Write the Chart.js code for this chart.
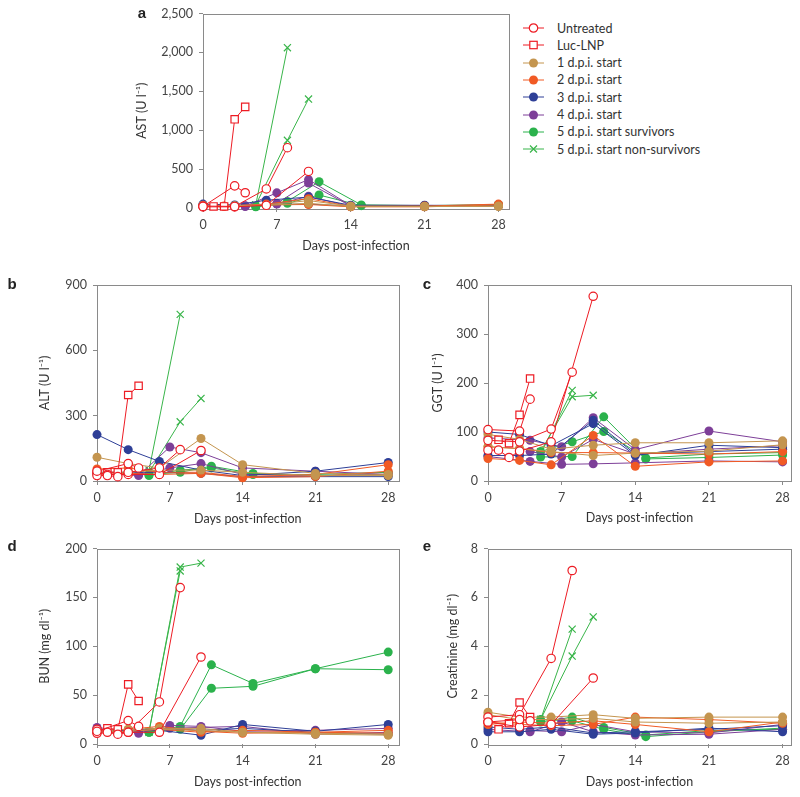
<!DOCTYPE html>
<html><head><meta charset="utf-8">
<script src="https://cdn.jsdelivr.net/npm/chart.js@4.4.1/dist/chart.umd.min.js"></script>
<style>
body{margin:0;background:#fff;width:800px;height:797px;position:relative;overflow:hidden;font-family:Lato,"Open Sans",sans-serif;}
canvas{position:absolute;}
.plabel{position:absolute;font:bold 15px "Liberation Sans",Arial,sans-serif;color:#222;transform:translate(-50%,-50%);}
.lrow{position:absolute;left:523px;height:16px;display:flex;align-items:center;font-size:12.5px;color:#333;white-space:nowrap;font-family:Lato,sans-serif;}
.lrow svg{margin-right:13px;}
</style></head><body>
<div id="root"></div>
<script>
// ---------- data ----------
const groupLabels = ['Untreated','Luc-LNP','1 d.p.i. start','2 d.p.i. start','3 d.p.i. start','4 d.p.i. start','5 d.p.i. start survivors','5 d.p.i. start non-survivors'];
const groupColors = ['#ed1c24','#ed1c24','#c4954f','#f15a24','#2e3f97','#7d3f98','#2bb24c','#39b54a'];
const xTickDays = [0,7,14,21,28];

// AST (U l-1)
const astUntreated = [[[0,20],[3,285],[4,196]], [[0,25],[3,20],[6,245],[8,775]], [[0,15],[3,15],[6,35],[10,470]]];
const astLuc = [[[1,20],[2,20],[3,1140],[4,1300]]];
const astD1 = [[[0,35],[3,30],[6,40],[10,95],[14,25],[21,20],[28,25]], [[0,30],[3,25],[6,35],[10,60],[14,20],[21,20],[28,20]]];
const astD2 = [[[0,30],[2,25],[6,50],[10,120],[14,20],[21,25],[28,50]], [[0,25],[2,20],[6,40],[10,45],[14,15],[21,15],[28,40]]];
const astD3 = [[[0,50],[3,40],[6,100],[10,140],[14,35],[21,35],[28,30]], [[0,35],[3,30],[6,45],[10,50],[14,25],[21,30],[28,35]]];
const astD4 = [[[0,40],[4,25],[7,195],[10,365],[14,30],[21,25],[28,30]], [[4,20],[7,60],[10,320],[14,25],[21,20],[28,25]], [[4,30],[7,50],[10,150],[14,20],[21,20],[28,30]]];
const astD5Surv = [[[5,20],[8,85],[11,337],[15,40],[21,30],[28,45]], [[5,15],[8,60],[11,167],[15,30],[21,25],[28,35]]];
const astD5NonSurv = [[[5,40],[8,2060]], [[5,40],[8,870],[10,1400]]];

// ALT (U l-1)
const altUntreated = [[[0,45],[3,80],[4,60]], [[0,25],[1,25],[2,20],[3,40],[6,60],[8,144]], [[0,40],[1,30],[3,30],[6,30],[10,140]]];
const altLuc = [[[1,40],[2,40],[3,395],[4,437]]];
const altD1 = [[[0,109],[3,80],[6,60],[10,195],[14,75],[21,35],[28,30]], [[0,40],[3,40],[6,50],[10,50],[14,40],[21,25],[28,25]]];
const altD2 = [[[0,55],[3,60],[6,40],[10,40],[14,20],[21,30],[28,75]], [[0,30],[3,35],[6,30],[10,35],[14,15],[21,20],[28,45]]];
const altD3 = [[[0,213],[3,144],[6,90],[10,50],[14,25],[21,45],[28,85]], [[0,40],[3,40],[6,40],[10,35],[14,20],[21,20],[28,20]]];
const altD4 = [[[0,35],[4,25],[7,156],[10,130],[14,60],[21,45],[28,30]], [[4,30],[7,60],[10,80],[14,30],[21,25],[28,30]]];
const altD5Surv = [[[5,30],[8,40],[11,68],[15,35],[21,25],[28,30]], [[5,25],[8,50],[11,60],[15,30],[21,30],[28,40]]];
const altD5NonSurv = [[[5,50],[8,765]], [[5,40],[8,272],[10,379]]];

// GGT (U l-1)
const ggtUntreated = [[[0,105],[3,102],[4,167]], [[0,83],[3,80],[6,106],[8,222]], [[0,63],[1,63],[2,48],[3,61],[6,80],[10,377]]];
const ggtLuc = [[[1,84],[2,77],[3,135],[4,209]]];
const ggtD1 = [[[0,95],[3,85],[6,65],[10,73],[14,78],[21,78],[28,82]], [[0,70],[3,66],[6,60],[10,52],[14,57],[21,61],[28,74]]];
const ggtD2 = [[[0,46],[3,42],[6,33],[10,93],[14,30],[21,39],[28,41]], [[0,70],[3,66],[6,58],[10,58],[14,57],[21,55],[28,60]]];
const ggtD3 = [[[0,100],[3,95],[6,72],[10,117],[14,52],[21,73],[28,68]], [[0,52],[3,52],[6,55],[10,124],[14,55],[21,60],[28,65]]];
const ggtD4 = [[[0,88],[4,83],[7,70],[10,129],[14,64],[21,102],[28,80]], [[0,50],[4,40],[7,34],[10,35],[14,37],[21,41],[28,39]], [[4,60],[7,49],[10,85],[14,55],[21,65],[28,72]]];
const ggtD5Surv = [[[5,49],[8,50],[11,131],[15,45],[21,48],[28,53]], [[5,60],[8,80],[11,101],[15,47],[21,55],[28,58]]];
const ggtD5NonSurv = [[[5,55],[8,185]], [[5,60],[8,172],[10,175]]];

// BUN (mg dl-1)
const bunUntreated = [[[0,13],[3,24],[4,18]], [[0,15],[1,12],[2,10],[3,12],[6,43],[8,160]], [[0,11],[3,12],[6,12],[10,89]]];
const bunLuc = [[[1,16],[2,15],[3,61],[4,44]]];
const bunD1 = [[[0,13],[3,15],[6,16],[10,16],[14,12],[21,11],[28,10]], [[0,12],[3,13],[6,15],[10,14],[14,12],[21,10],[28,9]]];
const bunD2 = [[[0,14],[3,15],[6,18],[10,13],[14,11],[21,12],[28,14]], [[0,12],[3,13],[6,15],[10,12],[14,14],[21,12],[28,11]]];
const bunD3 = [[[0,15],[3,13],[6,14],[10,9],[14,20],[21,13],[28,20]], [[0,12],[3,14],[6,16],[10,14],[14,16],[21,12],[28,10]]];
const bunD4 = [[[0,17],[4,11],[7,19],[10,18],[14,13],[21,14],[28,16]], [[4,13],[7,16],[10,17],[14,18],[21,10],[28,12]]];
const bunD5Surv = [[[5,12],[8,18],[11,81],[15,62],[21,77],[28,94]], [[5,12],[8,15],[11,57],[15,59],[21,77],[28,76]]];
const bunD5NonSurv = [[[5,12],[8,181],[10,185]], [[5,13],[8,177]]];

// Creatinine (mg dl-1)
const creUntreated = [[[0,0.9],[3,1.0],[4,0.95]], [[0,1.1],[3,1.2],[6,3.5],[8,7.1]], [[0,0.9],[3,0.7],[6,0.8],[10,2.7]]];
const creLuc = [[[1,0.6],[2,0.85],[3,1.7],[4,1.1]]];
const creD1 = [[[0,1.3],[3,1.1],[6,1.1],[10,1.2],[14,1.05],[21,1.1],[28,1.1]], [[0,1.2],[3,1.0],[6,1.0],[10,1.05],[14,0.9],[21,0.85],[28,0.9]]];
const creD2 = [[[0,0.9],[3,0.8],[6,0.75],[10,0.8],[14,1.1],[21,1.0],[28,0.85]], [[0,0.8],[3,0.9],[6,0.85],[10,0.95],[14,0.8],[21,0.5],[28,0.9]]];
const creD3 = [[[0,0.5],[3,0.5],[6,0.6],[10,0.4],[14,0.45],[21,0.65],[28,0.5]], [[0,0.7],[3,0.6],[6,0.7],[10,0.45],[14,0.5],[21,0.6],[28,0.75]]];
const creD4 = [[[0,0.6],[4,0.5],[7,0.9],[10,0.5],[14,0.37],[21,0.4],[28,0.6]], [[4,0.55],[7,0.5],[10,0.8],[14,0.5],[21,0.45],[28,0.8]]];
const creD5Surv = [[[5,0.9],[8,1.1],[11,0.68],[15,0.37],[21,0.55],[28,0.6]], [[5,1.0],[8,0.95],[11,0.6],[15,0.3],[21,0.5],[28,0.65]]];
const creD5NonSurv = [[[5,1.0],[8,4.7]], [[5,1.0],[8,3.6],[10,5.2]]];

// ---------- rendering ----------
const axisColor = '#8a8a8a';
const tickColor = '#444';
const fontFam = 'Lato, "Open Sans", sans-serif';
const fSize = 12.5, lh = fSize * 1.2;

function groupStyle(g) {
  const c = groupColors[g];
  if (g === 0) return {pointStyle:'circle', pointRadius:4.2, pointBackgroundColor:'#fff', pointBorderColor:c, pointBorderWidth:1.2};
  if (g === 1) return {pointStyle:'rect', pointRadius:5.2, pointBackgroundColor:'#fff', pointBorderColor:c, pointBorderWidth:1.2};
  if (g === 7) return {pointStyle:'crossRot', pointRadius:5, pointBackgroundColor:c, pointBorderColor:c, pointBorderWidth:1.2};
  return {pointStyle:'circle', pointRadius:4.5, pointBackgroundColor:c, pointBorderColor:c, pointBorderWidth:0};
}

function buildDatasets(groups) {
  const ds = [];
  groups.forEach((animals, g) => {
    animals.forEach(a => {
      ds.push(Object.assign({
        data: a.map(p => ({x:p[0], y:p[1]})),
        borderColor: groupColors[g], borderWidth: 1, showLine: true, clip: false,
        pointHoverRadius: 0
      }, groupStyle(g)));
    });
  });
  return ds;
}

const boxPlugin = {
  id: 'box',
  beforeDatasetsDraw(chart) {
    const {ctx, chartArea:a} = chart;
    ctx.save();
    ctx.strokeStyle = axisColor; ctx.lineWidth = 1;
    ctx.strokeRect(Math.round(a.left)+0.5, Math.round(a.top)+0.5, Math.round(a.right-a.left), Math.round(a.bottom-a.top));
    ctx.restore();
  }
};

const root = document.getElementById('root');
function makePanel(letter, letterPos, rect, area, xMax, yMax, yStep, yTitle, yTitleX, xTitleY, groups, fmt) {
  const cv = document.createElement('canvas');
  cv.width = rect.w; cv.height = rect.h;
  cv.style.left = rect.left + 'px'; cv.style.top = rect.top + 'px';
  cv.style.width = rect.w + 'px'; cv.style.height = rect.h + 'px';
  root.appendChild(cv);
  const lab = document.createElement('div');
  lab.className = 'plabel'; lab.textContent = letter;
  lab.style.left = letterPos[0] + 'px'; lab.style.top = letterPos[1] + 'px';
  root.appendChild(lab);
  const font = {family: fontFam, size: fSize};
  new Chart(cv, {
    type: 'scatter',
    data: {datasets: buildDatasets(groups)},
    plugins: [boxPlugin],
    options: {
      animation: false, responsive: false, devicePixelRatio: 1,
      events: [],
      layout: {padding: {left:0, top: area.T - rect.top, right: rect.left + rect.w - area.R, bottom: 0}},
      plugins: {legend: {display:false}, tooltip: {enabled:false}},
      scales: {
        x: {
          type: 'linear', min: 0, max: xMax,
          afterBuildTicks: ax => { ax.ticks = xTickDays.map(v => ({value: v})); },
          afterFit: ax => { ax.height = rect.top + rect.h - area.B; },
          grid: {drawOnChartArea:false, tickLength:4, color:axisColor},
          border: {display:false},
          ticks: {maxRotation:0, autoSkip:false, padding:5, color:tickColor, font},
          title: {display:true, text:'Days post-infection', color:'#333', font,
                  padding: {top:0, bottom: (rect.top + rect.h - xTitleY) - lh/2}}
        },
        y: {
          type: 'linear', min: 0, max: yMax,
          afterFit: ax => { ax.width = area.L - rect.left; },
          grid: {drawOnChartArea:false, tickLength:4, color:axisColor},
          border: {display:false},
          ticks: {stepSize: yStep, padding:6, color:tickColor, font, callback: v => fmt(v)},
          title: {display:true, text:yTitle, color:'#333', font,
                  padding: {top: (yTitleX - rect.left) - lh/2, bottom:0}}
        }
      }
    }
  });
}

const fmtComma = v => v.toLocaleString('en-US');
const fmtPlain = v => String(v);

makePanel('a', [142,12], {left:120, top:0, w:400, h:260}, {L:203, T:13, R:509, B:208}, 29, 2500, 500,
  'AST (U l\u207B\u00B9)', 142, 246,
  [astUntreated, astLuc, astD1, astD2, astD3, astD4, astD5Surv, astD5NonSurv], fmtComma);
makePanel('b', [12,283], {left:0, top:270, w:405, h:260}, {L:97, T:285, R:401, B:481}, 29, 900, 300,
  'ALT (U l\u207B\u00B9)', 45, 519,
  [altUntreated, altLuc, altD1, altD2, altD3, altD4, altD5Surv, altD5NonSurv], fmtPlain);
makePanel('c', [427,283], {left:405, top:270, w:395, h:260}, {L:488, T:285, R:791, B:481}, 28.8, 400, 100,
  'GGT (U l\u207B\u00B9)', 438, 518,
  [ggtUntreated, ggtLuc, ggtD1, ggtD2, ggtD3, ggtD4, ggtD5Surv, ggtD5NonSurv], fmtPlain);
makePanel('d', [12,545], {left:0, top:535, w:405, h:262}, {L:97, T:548, R:401, B:744}, 29, 200, 50,
  'BUN (mg dl\u207B\u00B9)', 45, 782,
  [bunUntreated, bunLuc, bunD1, bunD2, bunD3, bunD4, bunD5Surv, bunD5NonSurv], fmtPlain);
makePanel('e', [427,545], {left:405, top:535, w:395, h:262}, {L:488, T:548, R:791, B:744}, 28.8, 8, 2,
  'Creatinine (mg dl\u207B\u00B9)', 453, 782,
  [creUntreated, creLuc, creD1, creD2, creD3, creD4, creD5Surv, creD5NonSurv], fmtPlain);

// ---------- legend ----------
groupLabels.forEach((label, g) => {
  const c = groupColors[g];
  let marker;
  if (g === 0) marker = `<circle cx="10.5" cy="7" r="4.2" fill="#fff" stroke="${c}" stroke-width="1.2"/>`;
  else if (g === 1) marker = `<rect x="6.8" y="3.3" width="7.4" height="7.4" fill="#fff" stroke="${c}" stroke-width="1.2"/>`;
  else if (g === 7) marker = `<path d="M7 3.5 L14 10.5 M14 3.5 L7 10.5" stroke="${c}" stroke-width="1.2"/>`;
  else marker = `<circle cx="10.5" cy="7" r="4.5" fill="${c}"/>`;
  const row = document.createElement('div');
  row.className = 'lrow';
  row.style.top = (28 + g * 17.3 - 8) + 'px';
  row.innerHTML = `<svg width="21" height="14"><line x1="0" y1="7" x2="21" y2="7" stroke="${c}" stroke-width="1"/>${marker}</svg><span>${label}</span>`;
  root.appendChild(row);
});
</script>
</body></html>
